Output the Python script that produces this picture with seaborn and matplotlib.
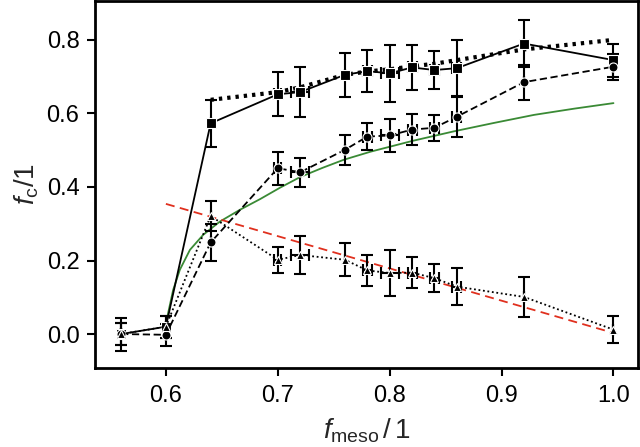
import numpy as np
import pandas as pd
import seaborn as sns
import matplotlib
matplotlib.use("Agg")
import matplotlib.pyplot as plt

# measured points
f_meso = [0.56, 0.60, 0.64, 0.70, 0.72, 0.76, 0.78, 0.80, 0.82, 0.84, 0.86, 0.92, 1.00]
x_err = [0.0, 0.0, 0.0, 0.003, 0.008, 0.0, 0.004, 0.008, 0.004, 0.004, 0.004, 0.0, 0.0]

sq_y = [0.0, 0.02, 0.573, 0.652, 0.658, 0.705, 0.715, 0.709, 0.725, 0.718, 0.723, 0.79, 0.745]
sq_err = [0.03, 0.03, 0.063, 0.06, 0.067, 0.06, 0.057, 0.077, 0.06, 0.052, 0.076, 0.064, 0.045]

ci_y = [0.0, -0.002, 0.249, 0.451, 0.44, 0.501, 0.537, 0.54, 0.556, 0.561, 0.591, 0.685, 0.727]
ci_err = [0.03, 0.03, 0.05, 0.045, 0.04, 0.04, 0.037, 0.045, 0.043, 0.036, 0.055, 0.048, 0.035]

tr_y = [0.0, 0.02, 0.321, 0.202, 0.215, 0.202, 0.173, 0.166, 0.167, 0.152, 0.129, 0.101, 0.012]
tr_err = [0.045, 0.03, 0.04, 0.035, 0.052, 0.045, 0.042, 0.063, 0.042, 0.039, 0.05, 0.054, 0.036]

# dotted upper curve
dot_x = [0.64, 0.70, 0.72, 0.76, 0.78, 0.80, 0.82, 0.84, 0.86, 0.92, 1.00]
dot_y = [0.637, 0.658, 0.671, 0.705, 0.714, 0.72, 0.728, 0.735, 0.745, 0.774, 0.80]

# green fit curve
fit_x = [0.6005, 0.602, 0.6065, 0.6125, 0.6215, 0.6334, 0.6483, 0.6662, 0.6842, 0.702,
         0.72, 0.74, 0.759, 0.783, 0.82, 0.857, 0.893, 0.929, 0.965, 1.0]
fit_y = [0.03, 0.057, 0.12, 0.175, 0.229, 0.27, 0.306, 0.338, 0.367, 0.398,
         0.427, 0.452, 0.474, 0.496, 0.525, 0.551, 0.574, 0.596, 0.613, 0.628]

# red dashed line
lin_x = [0.60, 1.00]
lin_y = [0.354, 0.003]

sns.set_theme(style="ticks")
plt.rcParams['font.family'] = ['Liberation Sans', 'DejaVu Sans']
plt.rcParams['mathtext.fontset'] = 'custom'
plt.rcParams['mathtext.rm'] = 'Liberation Sans'
plt.rcParams['mathtext.it'] = 'Liberation Sans:italic'

fig = plt.figure(figsize=(6.4, 4.47), dpi=100)
ax = fig.add_axes([0.148, 0.177, 0.849, 0.821])

sns.lineplot(x=fit_x, y=fit_y, color='#3a8a35', lw=1.3, ax=ax, sort=False)
sns.lineplot(x=lin_x, y=lin_y, color='#e0301e', lw=1.3, ax=ax,
             linestyle=(0, (5, 3)))
sns.lineplot(x=dot_x, y=dot_y, color='black', lw=3, ax=ax, linestyle=(0, (0.8, 1.2)))

series = [
    (sq_y, sq_err, 's', '-', 6.5),
    (ci_y, ci_err, 'o', (0, (4, 2)), 6.5),
    (tr_y, tr_err, '^', (0, (1, 1.5)), 5.5),
]
for y, err, m, ls, ms in series:
    ax.errorbar(f_meso, y, yerr=err, xerr=x_err, fmt='none', ecolor='black',
                elinewidth=1.5, capsize=4.5, capthick=1.5, zorder=3)
    sns.lineplot(x=f_meso, y=y, color='black', lw=1.3, linestyle=ls, marker=m,
                 markersize=ms, markeredgecolor='white', markeredgewidth=0.8,
                 ax=ax, zorder=4)

ax.set_xlim(0.5364, 1.022)
ax.set_ylim(-0.092, 0.906)
ax.set_xticks([0.6, 0.7, 0.8, 0.9, 1.0])
ax.set_yticks([0.0, 0.2, 0.4, 0.6, 0.8])
ax.set_xticklabels(['0.6', '0.7', '0.8', '0.9', '1.0'])
ax.set_yticklabels(['0.0', '0.2', '0.4', '0.6', '0.8'])
ax.tick_params(labelsize=17, width=1.5, length=6, color='black', labelcolor='black')
ax.tick_params(axis='x', pad=6)
ax.tick_params(axis='y', pad=5)
for s in ax.spines.values():
    s.set_linewidth(2)
    s.set_color('black')
ax.set_xlabel(r'$f_{\mathrm{meso}}\,/\,1$', fontsize=20, labelpad=7)
ax.set_ylabel(r'$f_{\mathrm{c}}/1$', fontsize=20, labelpad=4)

fig.savefig('out.png', dpi=100)
